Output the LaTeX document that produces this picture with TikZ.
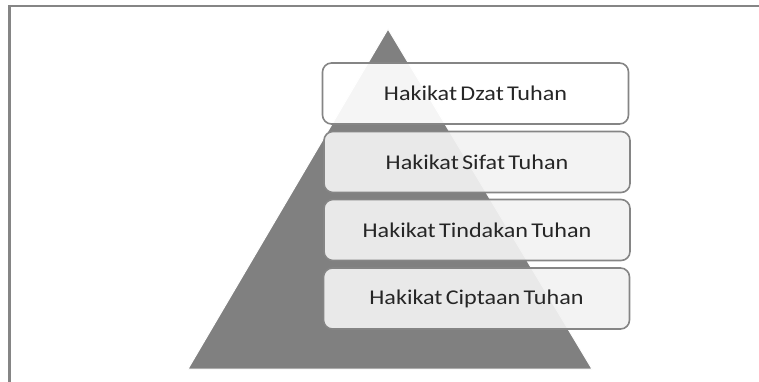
\documentclass[tikz,border=0pt]{standalone}
\usepackage{fontspec}
\setmainfont{Carlito}
\newfontfamily\tierfont[FakeStretch=1.15, WordSpace=0.6]{Carlito}
\usepackage{tikz}
\usetikzlibrary{positioning}

\definecolor{pyramidgray}{HTML}{808080}
\definecolor{edgegray}{HTML}{858585}
\definecolor{tierfill}{HTML}{F2F2F2}

\tikzset{
    tier/.style={draw=edgegray, line width=1.6pt, rounded corners=9pt,
                 fill=tierfill, fill opacity=0.92, text opacity=1,
                 minimum width=306pt, minimum height=61pt,
                 inner sep=0pt, font=\tierfont\fontsize{21}{24}\selectfont,
                 text=black!85}
}

\begin{document}
\begin{tikzpicture}[x=1pt, y=-1pt]

        \useasboundingbox (0, 0) rectangle (759, 382);

        % Frame
        \draw[edgegray, line width=2.4pt] (759, 6) -- (9.5, 6) -- (9.5, 382);

        % Draw the pyramid
        \coordinate (apex)  at (388, 29);
        \coordinate (left)  at (188, 369);
        \coordinate (right) at (592, 369);
        \fill[pyramidgray, draw=white, line width=1pt] (apex) -- (right) -- (left) -- cycle;

        % Draw the tiers
        \node[tier, fill=white] at (475.5, 93.5)  (dzat)     {Hakikat Dzat Tuhan};
        \node[tier]             at (477, 162)     (sifat)    {Hakikat Sifat Tuhan};
        \node[tier]             at (477, 230)     (tindakan) {Hakikat Tindakan Tuhan};
        \node[tier]             at (476.5, 298.5) (ciptaan)  {Hakikat Ciptaan Tuhan};
    \end{tikzpicture}
\end{document}
